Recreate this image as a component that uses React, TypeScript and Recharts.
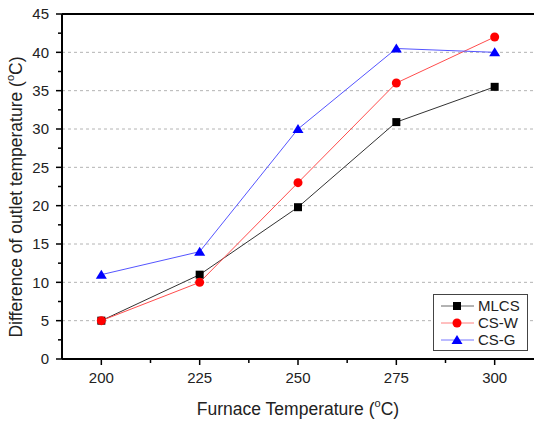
import React from 'react';
import {
  LineChart,
  Line,
  XAxis,
  YAxis,
  ReferenceLine,
  Legend
} from 'recharts';

// Furnace temperature (°C)
const temps = [200, 225, 250, 275, 300];
// Difference of outlet temperature (°C)
const mlcs = [5, 11, 19.8, 30.9, 35.5];
const csW = [5, 10, 23, 36, 42];
const csG = [11, 14, 30, 40.5, 40];

const xTicks = [200, 212.5, 225, 237.5, 250, 262.5, 275, 287.5, 300];
const xMajor = [200, 225, 250, 275, 300];
const yTicks = [0, 2.5, 5, 7.5, 10, 12.5, 15, 17.5, 20, 22.5, 25, 27.5, 30, 32.5, 35, 37.5, 40, 42.5, 45];
const gridValues = [5, 10, 15, 20, 25, 30, 35, 40];

const FONT = '"Liberation Sans", Arial, sans-serif';

const series = [
  { key: 'MLCS', values: mlcs, stroke: '#333333', legendStroke: '#666666', fill: '#000000', shape: 'square' },
  { key: 'CS-W', values: csW, stroke: '#ff4d4d', legendStroke: '#ff8080', fill: '#ff0000', shape: 'circle' },
  { key: 'CS-G', values: csG, stroke: '#5555ff', legendStroke: '#7777ff', fill: '#0000ff', shape: 'triangle' }
];

const data = temps.map((t, i) => {
  const row: Record<string, number> = { temp: t };
  series.forEach(s => {
    row[s.key] = s.values[i];
  });
  return row;
});

const Marker = ({ cx, cy, shape, fill }: any) => {
  if (cx == null || cy == null) return null;
  if (shape === 'square') {
    return <rect x={cx - 4} y={cy - 4} width={8} height={8} fill={fill} />;
  }
  if (shape === 'circle') {
    return <circle cx={cx} cy={cy} r={4.5} fill={fill} />;
  }
  return <path d={`M${cx},${cy - 5} L${cx + 5.5},${cy + 4} L${cx - 5.5},${cy + 4} Z`} fill={fill} />;
};

// tickSize 6 + tickMargin 6 => axis line sits 12px from the tick anchor
const XTick = ({ x, y, payload }: any) => {
  const axisY = y - 12;
  const major = xMajor.includes(payload.value);
  return (
    <g>
      <line x1={x} x2={x} y1={axisY} y2={axisY + (major ? 6 : 4)} stroke="#000" strokeWidth={1.5} />
      {major && (
        <text x={x} y={axisY + 13} dy="0.71em" textAnchor="middle" fontSize={15} fontFamily={FONT} fill="#222">
          {payload.value}
        </text>
      )}
    </g>
  );
};

const YTick = ({ x, y, payload }: any) => {
  const axisX = x + 12;
  const major = payload.value % 5 === 0;
  return (
    <g>
      <line x1={axisX} x2={axisX - (major ? 6 : 4)} y1={y} y2={y} stroke="#000" strokeWidth={1.5} />
      {major && (
        <text x={axisX - 13} y={y} dy="0.355em" textAnchor="end" fontSize={15} fontFamily={FONT} fill="#222">
          {payload.value}
        </text>
      )}
    </g>
  );
};

const LegendBox = () => (
  <div
    style={{
      border: '1px solid #444',
      background: '#fff',
      padding: '2px 0 2px 7px',
      fontFamily: FONT,
      fontSize: 15,
      color: '#222',
      width: 86,
      boxSizing: 'content-box'
    }}
  >
    {series.map(s => (
      <div key={s.key} style={{ display: 'flex', alignItems: 'center', height: 17 }}>
        <svg width={34} height={12} style={{ marginRight: 3 }}>
          <line x1={0} x2={33} y1={6} y2={6} stroke={s.legendStroke} strokeWidth={1} />
          <Marker cx={16} cy={6} shape={s.shape} fill={s.fill} />
        </svg>
        <span>{s.key}</span>
      </div>
    ))}
  </div>
);

const App = () => {
  return (
    <div style={{ position: 'absolute', left: 0, top: 0, background: '#fff' }}>
      <LineChart
        width={534}
        height={422}
        data={data}
        margin={{ top: 14, right: 0, left: 12, bottom: 0 }}
      >
        {gridValues.map(v => (
          <ReferenceLine key={v} y={v} stroke="#b4b4b4" strokeDasharray="3 3" strokeWidth={1} />
        ))}
        <ReferenceLine y={45} stroke="#000" strokeWidth={2} />
        <XAxis
          dataKey="temp"
          type="number"
          domain={[190, 310]}
          ticks={xTicks}
          interval={0}
          allowDataOverflow
          height={63}
          tickSize={6}
          tickMargin={6}
          tickLine={false}
          tick={<XTick />}
          axisLine={{ stroke: '#000', strokeWidth: 2 }}
          label={{
            content: () => (
              <text x={298} y={410} textAnchor="middle" dominantBaseline="middle" fontSize={17.5} fontFamily={FONT} fill="#222">
                Furnace Temperature (
                <tspan dy={-6} fontSize={11}>o</tspan>
                <tspan dy={6}>C)</tspan>
              </text>
            )
          }}
        />
        <YAxis
          type="number"
          domain={[0, 45]}
          ticks={yTicks}
          interval={0}
          width={50}
          tickSize={6}
          tickMargin={6}
          tickLine={false}
          tick={<YTick />}
          axisLine={{ stroke: '#000', strokeWidth: 2 }}
          label={{
            content: () => (
              <text
                x={17}
                y={197}
                transform="rotate(-90 17 197)"
                textAnchor="middle"
                dominantBaseline="middle"
                fontSize={17.5}
                fontFamily={FONT}
                fill="#222"
              >
                Difference of outlet temperature (
                <tspan dy={-6} fontSize={11}>o</tspan>
                <tspan dy={6}>C)</tspan>
              </text>
            )
          }}
        />
        {series.map(s => (
          <Line
            key={s.key}
            dataKey={s.key}
            name={s.key}
            type="linear"
            stroke={s.stroke}
            strokeWidth={1}
            dot={(props: any) => <Marker key={`${s.key}-${props.index}`} {...props} shape={s.shape} fill={s.fill} />}
            activeDot={false}
            isAnimationActive={false}
          />
        ))}
        <Legend
          layout="vertical"
          align="center"
          verticalAlign="middle"
          content={<LegendBox />}
          wrapperStyle={{ left: 433, top: 294, width: 'auto', height: 'auto' }}
        />
      </LineChart>
    </div>
  );
};

export default App;
